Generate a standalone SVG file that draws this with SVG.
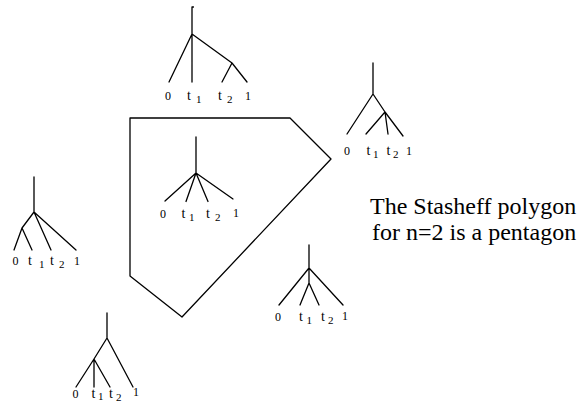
<svg xmlns="http://www.w3.org/2000/svg" width="579" height="403" viewBox="0 0 579 403">
<style>
.e{stroke:#000;stroke-width:1.3;fill:none;stroke-linecap:round;stroke-linejoin:round}
.l{font-family:"Liberation Serif","Times New Roman",serif;font-size:12px;fill:#000}
.t{font-family:"Liberation Serif","Times New Roman",serif;font-size:14px;fill:#000}
.s{font-family:"Liberation Serif","Times New Roman",serif;font-size:11px;fill:#000}
.cap{font-family:"Liberation Serif","Times New Roman",serif;font-size:24px;fill:#000}
</style>
<rect width="579" height="403" fill="#fff"/>
<g id="pentagon">
<polygon class="e" points="130,118 290,118 331,159 182,317 130,276"/>
</g>
<g id="tree-top">
<path class="e" d="M192,7H193.5M192,7V34L169,82M192,34V82M192,34L232,63L222,82M232,63L247,82"/>
<text class="l" x="165" y="100">0</text>
<text class="t" x="187" y="100">t</text><text class="s" x="196" y="102.5">1</text>
<text class="t" x="218" y="100">t</text><text class="s" x="227" y="102.5">2</text>
<text class="l" x="245" y="100">1</text>
</g>
<g id="tree-right">
<path class="e" d="M373,63V94L347,134M373,94L385,112L366,134M385,112L388,134M385,112L403,136"/>
<text class="l" x="344" y="155">0</text>
<text class="t" x="366.5" y="155">t</text><text class="s" x="373" y="157.5">1</text>
<text class="t" x="386.5" y="155">t</text><text class="s" x="393" y="157.5">2</text>
<text class="l" x="406" y="155">1</text>
</g>
<g id="tree-center">
<path class="e" d="M196,137V173L165,201M196,173L186,201.5M196,173L208,201.5M196,173L233,199"/>
<text class="l" x="160" y="218">0</text>
<text class="t" x="181.5" y="218">t</text><text class="s" x="189" y="221">1</text>
<text class="t" x="206" y="218">t</text><text class="s" x="215" y="221">2</text>
<text class="l" x="233" y="217">1</text>
</g>
<g id="tree-left">
<path class="e" d="M34,177V212L22,228L14,250M22,228L32,250M34,212L51,250M34,212L76,250"/>
<text class="l" x="12.5" y="265">0</text>
<text class="t" x="28" y="265">t</text><text class="s" x="39" y="267.5">1</text>
<text class="t" x="50" y="265">t</text><text class="s" x="59" y="267.5">2</text>
<text class="l" x="74" y="265">1</text>
</g>
<g id="tree-bottom-right">
<path class="e" d="M309,245V268L279,305M309,268V283L300,305M309,283L319,305M309,268L343,305"/>
<text class="l" x="275" y="320.5">0</text>
<text class="t" x="299" y="320.5">t</text><text class="s" x="306.5" y="324">1</text>
<text class="t" x="321" y="320.5">t</text><text class="s" x="328" y="324">2</text>
<text class="l" x="342" y="320">1</text>
</g>
<g id="tree-bottom">
<path class="e" d="M107,313V338L94,359L76,387M94,359V387M94,359L110,387M107,338L133,387"/>
<text class="l" x="72.5" y="397.5">0</text>
<text class="t" x="91.5" y="397.5">t</text><text class="s" x="98" y="400">1</text>
<text class="t" x="109" y="397.5">t</text><text class="s" x="116" y="400.5">2</text>
<text class="l" x="133" y="396">1</text>
</g>
<g id="caption">
<text class="cap" x="370" y="214">The Stasheff polygon</text>
<text class="cap" x="372" y="240">for n=2 is a pentagon</text>
</g>
</svg>
